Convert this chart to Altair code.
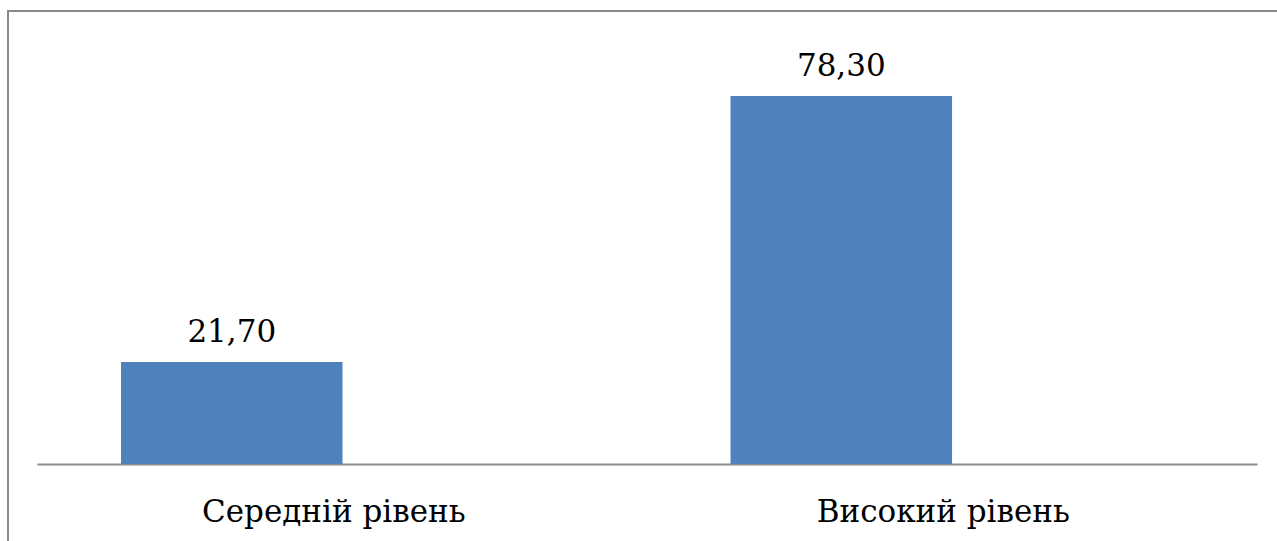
import altair as alt
import pandas as pd

# Distribution of levels (percent)
categories = ["Середній рівень", "Високий рівень"]
values = [21.70, 78.30]
labels = [f"{v:.2f}".replace(".", ",") for v in values]

df = pd.DataFrame({"level": categories, "share": values, "label": labels})

FONT = "DejaVu Serif"
FONT_SIZE = 31
PLOT_W, PLOT_H = 1220, 423

x_scale = alt.Scale(paddingInner=0.6366, paddingOuter=0.3191, align=0.216)
y_scale = alt.Scale(domain=[0, 90])

base = alt.Chart(df).encode(
    x=alt.X(
        "level:N",
        sort=None,
        scale=x_scale,
        axis=alt.Axis(
            title=None,
            ticks=False,
            grid=False,
            domainColor="#8c8c8c",
            domainWidth=2,
            labelFont=FONT,
            labelFontSize=FONT_SIZE,
            labelColor="#000000",
            labelPadding=33,
            labelOffset=102,
            labelAngle=0,
            labelLimit=0,
        ),
    ),
    y=alt.Y("share:Q", scale=y_scale, axis=None),
)

bars = base.mark_bar(color="#4f81bd")
values_text = base.mark_text(
    font=FONT, fontSize=FONT_SIZE, color="#000000", baseline="alphabetic", dy=-20
).encode(text="label:N")

# Outer frame lines (left and top edges)
frame_left = alt.Chart(df).mark_rule(color="#898989", strokeWidth=2).encode(
    x=alt.value(-29), y=alt.value(-30), y2=alt.value(500)
)
frame_top = alt.Chart(df).mark_rule(color="#898989", strokeWidth=2).encode(
    x=alt.value(-30), x2=alt.value(1240), y=alt.value(-30)
)

chart = (
    alt.layer(frame_left, frame_top, bars, values_text)
    .properties(
        width=PLOT_W,
        height=PLOT_H,
        autosize=alt.AutoSizeParams(type="none"),
        padding={"left": 37, "top": 41, "right": 20, "bottom": 77},
        background="#ffffff",
    )
    .configure_view(stroke=None)
)

chart.save("out.html", embed_options={"renderer": "svg", "actions": False})
